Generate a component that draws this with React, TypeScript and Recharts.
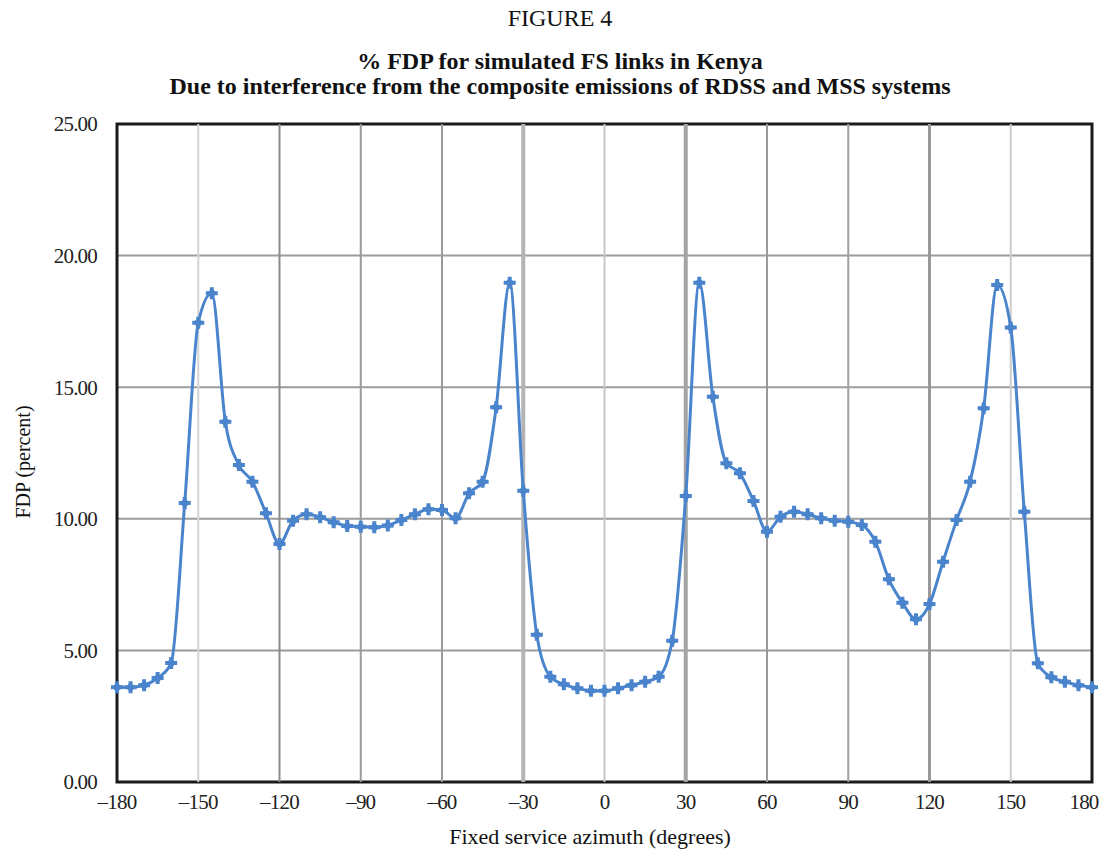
import React from "react";
import {
	LineChart,
	Line,
	XAxis,
	YAxis,
	CartesianGrid,
	ReferenceLine,
	ReferenceArea,
} from "recharts";

// azimuth in degrees, one sample every 5 degrees
const azimuth = [
	-180, -175, -170, -165, -160, -155, -150, -145, -140, -135, -130, -125, -120,
	-115, -110, -105, -100, -95, -90, -85, -80, -75, -70, -65, -60, -55, -50, -45,
	-40, -35, -30, -25, -20, -15, -10, -5, 0, 5, 10, 15, 20, 25, 30, 35, 40, 45,
	50, 55, 60, 65, 70, 75, 80, 85, 90, 95, 100, 105, 110, 115, 120, 125, 130,
	135, 140, 145, 150, 155, 160, 165, 170, 175, 180,
];

// % FDP
const fdp = [
	3.6, 3.6, 3.68, 3.95, 4.52, 10.6, 17.45, 18.57, 13.69, 12.04, 11.41, 10.21,
	9.04, 9.93, 10.17, 10.06, 9.87, 9.73, 9.7, 9.68, 9.75, 9.95, 10.17, 10.36,
	10.33, 10.02, 10.97, 11.41, 14.24, 18.97, 11.07, 5.59, 4.0, 3.71, 3.56, 3.47,
	3.47, 3.56, 3.68, 3.81, 4.0, 5.37, 10.87, 18.97, 14.64, 12.11, 11.73, 10.68,
	9.51, 10.08, 10.27, 10.17, 10.02, 9.93, 9.89, 9.76, 9.13, 7.7, 6.81, 6.18,
	6.76, 8.37, 9.95, 11.41, 14.2, 18.88, 17.27, 10.27, 4.51, 3.98, 3.81, 3.68,
	3.6,
];

const xTicks = [-180, -150, -120, -90, -60, -30, 0, 30, 60, 90, 120, 150, 180];
const yTicks = [0, 5, 10, 15, 20, 25];
const yMinorTicks = [
	0, 1, 2, 3, 4, 5, 6, 7, 8, 9, 10, 11, 12, 13, 14, 15, 16, 17, 18, 19, 20, 21,
	22, 23, 24, 25,
];
const gridX = [-150, -120, -90, -60, -30, 0, 30, 60, 90, 120, 150];

const data = azimuth.map((a, i) => ({ az: a, fdp: fdp[i] }));

const BLUE = "#4a84cc";
const FONT = "'Liberation Serif', 'Times New Roman', serif";

// the scanned grid has uneven line weights
const gridStyle: Record<number, { stroke: string; width: number }> = {
	[-150]: { stroke: "#d4d4d4", width: 2 },
	[-120]: { stroke: "#8c8c8c", width: 2 },
	[-90]: { stroke: "#9a9a9a", width: 2 },
	[-60]: { stroke: "#9a9a9a", width: 2 },
	[-30]: { stroke: "#b4b4b4", width: 4 },
	0: { stroke: "#c8c8c8", width: 2 },
	30: { stroke: "#a4a4a4", width: 4 },
	60: { stroke: "#9a9a9a", width: 2 },
	90: { stroke: "#a0a0a0", width: 2 },
	120: { stroke: "#999999", width: 3 },
	150: { stroke: "#cccccc", width: 2 },
};

const StarDot = (props: any) => {
	const { cx, cy, index } = props;
	if (cx == null || cy == null) return null;
	return (
		<g key={`dot-${index}`}>
			<path
				d={`M${cx - 6},${cy}h12M${cx},${cy - 6}v12`}
				stroke={BLUE}
				strokeWidth={4}
			/>
			<circle cx={cx} cy={cy} r={3.5} fill={BLUE} />
		</g>
	);
};

const fmtX = (v: number) => (v < 0 ? `\u2013${Math.abs(v)}` : `${v}`);

const tickStyle = {
	fontFamily: FONT,
	fontSize: 21,
	fill: "#222",
	letterSpacing: -0.8,
};

// last label sits a little inside the frame, like the original
const XTick = (props: any) => {
	const { x, y, payload } = props;
	const v = payload.value as number;
	return (
		<text
			x={x}
			y={y}
			dy="0.71em"
			dx={v === 180 ? -8 : 0}
			textAnchor="middle"
			style={tickStyle}
		>
			{fmtX(v)}
		</text>
	);
};

const App: React.FC = () => {
	return (
		<div
			style={{
				position: "relative",
				width: 1111,
				height: 859,
				margin: -8,
				background: "#fff",
				fontFamily: FONT,
				color: "#111",
			}}
		>
			<LineChart
				width={1111}
				height={859}
				data={data}
				margin={{ top: 124, right: 19, left: 17, bottom: 37 }}
			>
				<CartesianGrid
					vertical={false}
					stroke="#9c9c9c"
					strokeWidth={2}
					yAxisId="main"
				/>
				{gridX.map((x) => (
					<ReferenceLine
						key={x}
						x={x}
						yAxisId="main"
						stroke={gridStyle[x].stroke}
						strokeWidth={gridStyle[x].width}
					/>
				))}
				<XAxis
					dataKey="az"
					type="number"
					domain={[-180, 180]}
					ticks={xTicks}
					tick={<XTick />}
					tickLine={false}
					tickSize={6}
					tickMargin={6}
					axisLine={false}
					height={40}
					interval={0}
				/>
				<XAxis
					xAxisId="minor"
					type="number"
					domain={[-180, 180]}
					allowDataOverflow
					ticks={azimuth}
					tick={false}
					tickSize={6}
					tickLine={{ stroke: "#aaa", strokeWidth: 1.5 }}
					axisLine={false}
					mirror
					interval={0}
				/>
				<YAxis
					yAxisId="main"
					type="number"
					domain={[0, 25]}
					ticks={yTicks}
					tickFormatter={(v: number) => v.toFixed(2)}
					tick={tickStyle}
					tickLine={false}
					tickSize={6}
					tickMargin={14}
					axisLine={false}
					width={100}
					interval={0}
				/>
				<YAxis
					yAxisId="minor"
					type="number"
					domain={[0, 25]}
					allowDataOverflow
					ticks={yMinorTicks}
					tick={false}
					tickSize={6}
					tickLine={{ stroke: "#aaa", strokeWidth: 1.5 }}
					axisLine={false}
					mirror
					interval={0}
				/>
				<ReferenceArea
					x1={-180}
					x2={180}
					y1={0}
					y2={25}
					yAxisId="main"
					fill="none"
					stroke="#1a1a1a"
					strokeWidth={3}
				/>
				<Line
					yAxisId="main"
					dataKey="fdp"
					type="monotone"
					stroke={BLUE}
					strokeWidth={3}
					dot={<StarDot />}
					activeDot={false}
					isAnimationActive={false}
				/>
			</LineChart>

			<div
				style={{
					position: "absolute",
					left: 560,
					top: 6,
					transform: "translateX(-50%)",
					fontSize: 24,
					lineHeight: 1,
					whiteSpace: "nowrap",
				}}
			>
				FIGURE 4
			</div>
			<div
				style={{
					position: "absolute",
					left: 560,
					top: 49,
					transform: "translateX(-50%)",
					fontSize: 24,
					fontWeight: "bold",
					lineHeight: "24px",
					whiteSpace: "nowrap",
				}}
			>
				% FDP for simulated FS links in Kenya
			</div>
			<div
				style={{
					position: "absolute",
					left: 560,
					top: 74,
					transform: "translateX(-50%)",
					fontSize: 24,
					fontWeight: "bold",
					lineHeight: "24px",
					whiteSpace: "nowrap",
				}}
			>
				Due to interference from the composite emissions of RDSS and MSS systems
			</div>
			<div
				style={{
					position: "absolute",
					left: 23,
					top: 462,
					transform: "translate(-50%, -50%) rotate(-90deg)",
					fontSize: 20,
					lineHeight: 1,
					whiteSpace: "nowrap",
				}}
			>
				FDP (percent)
			</div>
			<div
				style={{
					position: "absolute",
					left: 590,
					top: 826,
					transform: "translateX(-50%)",
					fontSize: 22,
					lineHeight: 1,
					whiteSpace: "nowrap",
				}}
			>
				Fixed service azimuth (degrees)
			</div>
		</div>
	);
};

export default App;
